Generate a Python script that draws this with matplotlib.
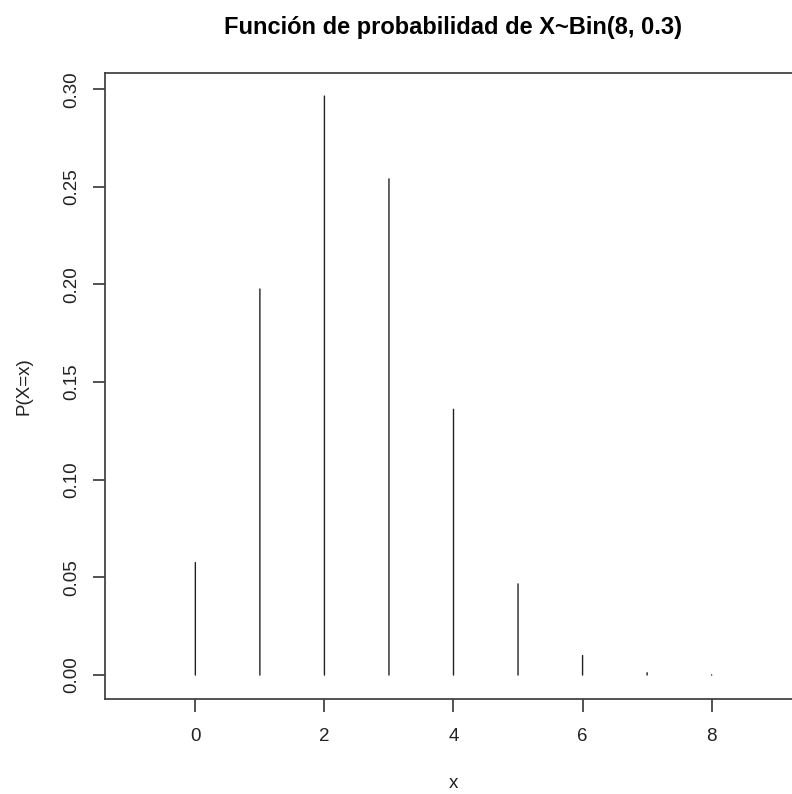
import matplotlib
matplotlib.use('Agg')
import matplotlib.pyplot as plt

plt.rcParams['font.family'] = ['Liberation Sans', 'DejaVu Sans']

x = [0, 1, 2, 3, 4, 5, 6, 7, 8]
prob = [0.0576, 0.1977, 0.2965, 0.2541, 0.1361, 0.0467, 0.0100, 0.0012, 0.0001]
xticks = [0, 2, 4, 6, 8]
yticks = [0.00, 0.05, 0.10, 0.15, 0.20, 0.25, 0.30]

fig = plt.figure(figsize=(7.92, 7.94), dpi=100)
ax = fig.add_axes([105 / 792, 95.3 / 794, 697 / 792, 625.7 / 794])

ax.vlines(x, 0, prob, color='#222222', linewidth=1.0, capstyle='round', snap=False)

ax.set_xlim(-1.4, 9.4)
ax.set_ylim(-0.0121, 0.3083)
ax.set_xticks(xticks)
ax.set_yticks(yticks)
ax.set_yticklabels(['%.2f' % v for v in yticks], rotation=90, va='center')

for s in ax.spines.values():
    s.set_color('#444444')
    s.set_linewidth(1.3)
ax.spines['right'].set_visible(False)
ax.tick_params(direction='out', length=9, width=1.3, color='#444444',
               labelsize=13.5, pad=9, labelcolor='#222222')
ax.tick_params(axis='x', pad=12)

ax.set_title('Función de probabilidad de X~Bin(8, 0.3)', fontsize=17,
             fontweight='bold', pad=28)
ax.set_xlabel('x', fontsize=13.5, labelpad=22, color='#222222')
ax.set_ylabel('P(X=x)', fontsize=13.5, labelpad=22, color='#222222')

fig.savefig('out.png', dpi=100)
